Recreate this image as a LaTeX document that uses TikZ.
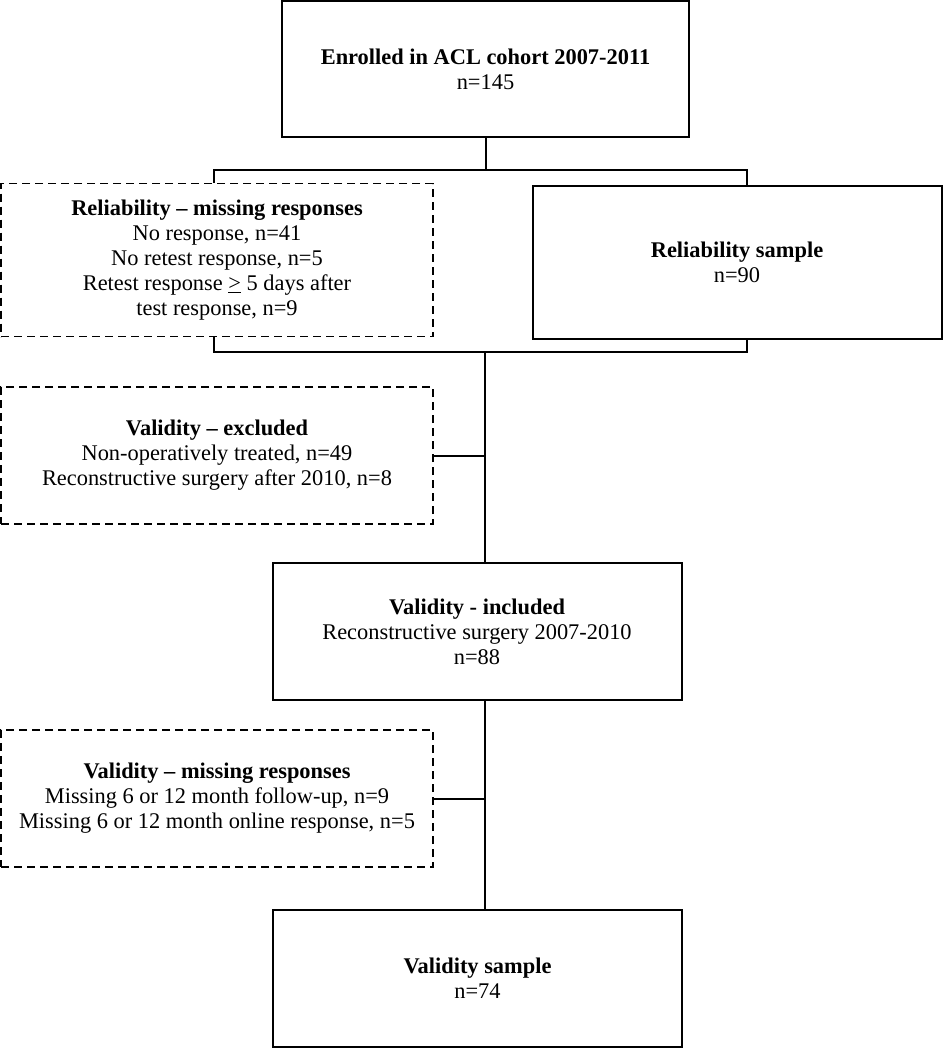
\documentclass[tikz,border=0pt]{standalone}
\usepackage{fontspec}
\setmainfont{Liberation Serif}
\begin{document}
\begin{tikzpicture}[x=1pt,y=-1pt,
  box/.style={draw=black,line width=2pt,align=center,inner sep=0pt,font=\fontsize{22.4}{25}\selectfont},
  dbox/.style={box,line width=1.8pt,dash pattern=on 8pt off 5pt},
  conn/.style={draw=black,line width=2pt}]
\useasboundingbox[fill=white] (0,0) rectangle (943,1050);
\node[box,minimum width=407pt,minimum height=136pt] (top) at (485.5,69)
  {\textbf{Enrolled in ACL cohort 2007-2011}\\n=145};
\node[dbox,minimum width=432pt,minimum height=153pt] (relmiss) at (217,260)
  {\textbf{Reliability – missing responses}\\No response, n=41\\No retest response, n=5\\Retest response \underline{>} 5 days after\\test response, n=9};
\node[box,minimum width=409pt,minimum height=153pt] (relsam) at (737,262)
  {\textbf{Reliability sample}\\n=90};
\node[dbox,minimum width=432pt,minimum height=137pt] (valexc) at (217,455.5)
  {\textbf{Validity – excluded}\\Non-operatively treated, n=49\\Reconstructive surgery after 2010, n=8};
\node[box,minimum width=409pt,minimum height=137pt] (valinc) at (477,631.5)
  {\textbf{Validity - included}\\Reconstructive surgery 2007-2010\\n=88};
\node[dbox,minimum width=432pt,minimum height=137pt] (valmiss) at (217,798.5)
  {\textbf{Validity – missing responses}\\Missing 6 or 12 month follow-up, n=9\\Missing 6 or 12 month online response, n=5};
\node[box,minimum width=409pt,minimum height=137pt] (valsam) at (477.5,978.5)
  {\textbf{Validity sample}\\n=74};
\coordinate (j1) at (485.5,170);
\coordinate (a1) at (214,170);
\coordinate (a2) at (747,170);
\coordinate (b1) at (214,352);
\coordinate (b2) at (747,352);
\coordinate (j2) at (485,352);
\draw[conn] (top.south) -- (j1);
\draw[conn] (a1 |- relmiss.north) -- (a1) -- (a2) -- (a2 |- relsam.north);
\draw[conn] (b1 |- relmiss.south) -- (b1) -- (b2) -- (b2 |- relsam.south);
\draw[conn] (j2) -- (j2 |- valinc.north);
\draw[conn] (valexc.east) -- (valexc.east -| j2);
\draw[conn] (j2 |- valinc.south) -- (j2 |- valsam.north);
\draw[conn] (valmiss.east) -- (valmiss.east -| j2);
\end{tikzpicture}
\end{document}
